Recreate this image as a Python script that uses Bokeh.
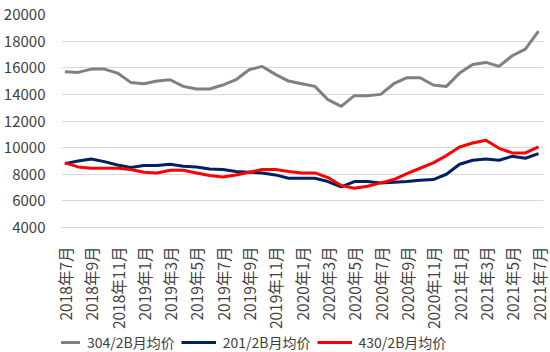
import math
from bokeh.plotting import figure
from bokeh.layouts import column
from bokeh.models import ColumnDataSource, FixedTicker, Legend, LegendItem
from bokeh.embed import file_html
from bokeh.resources import INLINE

months = [
    "2018年7月", "2018年8月", "2018年9月", "2018年10月", "2018年11月", "2018年12月",
    "2019年1月", "2019年2月", "2019年3月", "2019年4月", "2019年5月", "2019年6月",
    "2019年7月", "2019年8月", "2019年9月", "2019年10月", "2019年11月", "2019年12月",
    "2020年1月", "2020年2月", "2020年3月", "2020年4月", "2020年5月", "2020年6月",
    "2020年7月", "2020年8月", "2020年9月", "2020年10月", "2020年11月", "2020年12月",
    "2021年1月", "2021年2月", "2021年3月", "2021年4月", "2021年5月", "2021年6月",
    "2021年7月",
]

s304 = [15700, 15650, 15900, 15900, 15600, 14900, 14800, 15000, 15100, 14600,
        14400, 14400, 14700, 15100, 15850, 16100, 15500, 15000, 14800, 14600,
        13600, 13100, 13900, 13900, 14000, 14800, 15250, 15250, 14700, 14600,
        15600, 16250, 16400, 16100, 16900, 17400, 18750]

s201 = [8800, 9000, 9150, 8950, 8700, 8500, 8650, 8650, 8750, 8600,
        8550, 8400, 8350, 8200, 8150, 8100, 7950, 7700, 7700, 7700,
        7450, 7050, 7450, 7450, 7350, 7400, 7450, 7550, 7600, 8000,
        8750, 9050, 9150, 9050, 9350, 9200, 9550]

s430 = [8850, 8550, 8450, 8450, 8450, 8350, 8150, 8100, 8300, 8300,
        8100, 7900, 7800, 7950, 8150, 8350, 8350, 8200, 8100, 8100,
        7750, 7150, 6950, 7100, 7350, 7600, 8050, 8450, 8850, 9400,
        10050, 10350, 10550, 9950, 9600, 9600, 10050]

legend_labels = ["304/2B月均价", "201/2B月均价", "430/2B月均价"]
colors = ["#808080", "#002060", "#FF0000"]
y_ticks = [4000, 6000, 8000, 10000, 12000, 14000, 16000, 18000, 20000]

x = list(range(len(months)))
src = ColumnDataSource(dict(x=x, a=s304, b=s201, c=s430))

FONT = "Noto Sans CJK SC"
TXT = "#404040"

p = figure(width=550, height=332, output_backend="svg", toolbar_location=None,
           x_range=(-0.26, 36.38), y_range=(4000, 20000),
           min_border_left=56, min_border_right=7, min_border_top=14,
           min_border_bottom=105)
p.outline_line_color = None
p.background_fill_color = "white"
p.border_fill_color = "white"

p.line("x", "a", source=src, line_color=colors[0], line_width=3)
p.line("x", "b", source=src, line_color=colors[1], line_width=3)
p.line("x", "c", source=src, line_color=colors[2], line_width=3)

p.xgrid.grid_line_color = None
p.ygrid.grid_line_color = "#D9D9D9"
p.ygrid.grid_line_width = 1

p.yaxis.ticker = FixedTicker(ticks=y_ticks)
p.yaxis.axis_line_color = None
p.yaxis.major_tick_line_color = None
p.yaxis.minor_tick_line_color = None
p.yaxis.major_label_text_font = FONT
p.yaxis.major_label_text_font_size = "15px"
p.yaxis.major_label_text_color = TXT
p.yaxis.major_label_standoff = 10

p.xaxis.ticker = FixedTicker(ticks=list(range(0, len(months), 2)))
p.xaxis.major_label_overrides = {i: months[i] for i in range(0, len(months), 2)}
p.xaxis.major_label_orientation = math.pi / 2
p.xaxis.axis_line_color = "#D9D9D9"
p.xaxis.major_tick_line_color = None
p.xaxis.minor_tick_line_color = None
p.xaxis.major_label_text_font = FONT
p.xaxis.major_label_text_font_size = "15.5px"
p.xaxis.major_label_text_color = TXT
p.xaxis.major_label_standoff = 13

# legend strip below the chart
pl = figure(width=550, height=20, output_backend="svg", toolbar_location=None,
            x_range=(0, 1), y_range=(0, 1), min_border=0,
            x_axis_location=None, y_axis_location=None)
pl.grid.visible = False
pl.outline_line_color = None
pl.border_fill_color = "white"
dummy = ColumnDataSource(dict(x=[0.0, 0.1], y=[-10.0, -10.0]))
lr = [pl.line("x", "y", source=dummy, line_color=c, line_width=3) for c in colors]
legend = Legend(items=[LegendItem(label=lab, renderers=[r]) for lab, r in zip(legend_labels, lr)],
                orientation="horizontal", location=(-16, 0),
                padding=0, margin=0, spacing=6, glyph_width=35, glyph_height=20,
                label_standoff=7, border_line_color=None,
                background_fill_alpha=0,
                label_text_font=FONT, label_text_font_size="14px",
                label_text_color=TXT)
pl.add_layout(legend, "center")

layout = column(p, pl, spacing=0)
open("out.html", "w").write(file_html(layout, INLINE))
